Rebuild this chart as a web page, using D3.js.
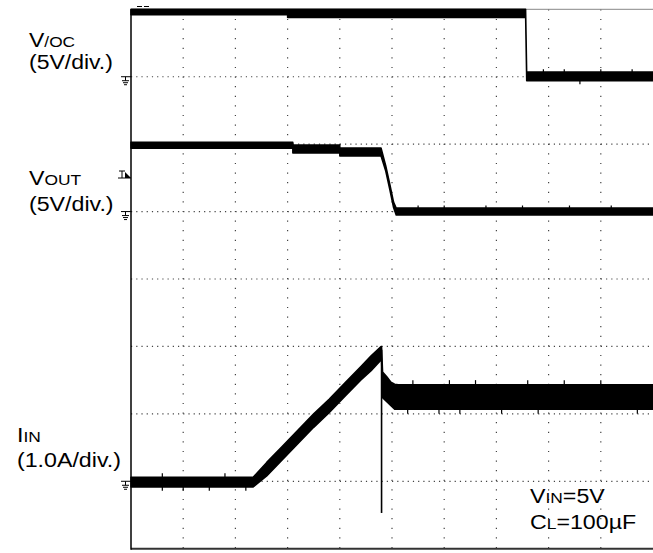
<!DOCTYPE html>
<html><head><meta charset="utf-8">
<script src="https://cdn.jsdelivr.net/npm/d3@7/dist/d3.min.js"></script>
<style>html,body{margin:0;padding:0;background:#fff;}svg{display:block;}</style>
</head><body>
<svg id="c" width="653" height="553"></svg>
<script>
// ---- data (time in ms, 1 ms/div; voltages in V; current in A) ----
const timeDomain = [0, 10];
const divDomain = [0, 8];
// V/OC channel: 5 V/div, ground at division 7
const vocTime = [0, 3.0, 3.0, 7.56, 7.58, 10];
const vocHi   = [5.0, 5.0, 5.0, 5.0, 0.35, 0.35];
const vocLo   = [4.6, 4.6, 4.4, 4.4, -0.3, -0.3];
// VOUT channel: 5 V/div, ground at division 5
const voutTime = [0, 3.1, 3.1, 4.0, 4.0, 4.79, 4.88, 4.96, 5.03, 5.08, 10];
const voutHi   = [5.15, 5.15, 4.93, 4.93, 4.71, 4.71, 3.4, 2.0, 0.7, 0.26, 0.26];
const voutLo   = [4.7, 4.7, 4.34, 4.34, 4.12, 4.12, 3.0, 1.6, 0.3, -0.26, -0.26];
// IIN channel: 1.0 A/div, ground at division 1
const iinTime = [0, 2.34, 2.6, 2.9, 3.2, 3.5, 3.8, 4.1, 4.4, 4.6, 4.79, 4.8, 4.82, 4.9, 4.98, 5.05, 5.12, 10];
const iinHi   = [0.06, 0.06, 0.28, 0.52, 0.76, 1.0, 1.22, 1.46, 1.7, 1.86, 2.0, 2.0, 1.62, 1.55, 1.47, 1.44, 1.43, 1.43];
const iinLo   = [-0.085, -0.085, 0.08, 0.32, 0.56, 0.8, 1.02, 1.26, 1.5, 1.64, 1.8, 1.8, 1.24, 1.18, 1.12, 1.07, 1.07, 1.07];
const iinSpikeTime = [4.8, 4.8];
const iinSpikeVal  = [1.95, -0.47];
// small noise ticks read from the capture: [time, from, to]
const iinNoise = [[0.6, 0.06, 0.12], [0.6, -0.085, -0.14], [1.0, -0.085, -0.14], [1.5, -0.085, -0.14], [1.8, 0.06, 0.12], [2.2, -0.085, -0.14],
                  [5.4, 1.43, 1.5], [6.1, 1.43, 1.5], [6.6, 1.43, 1.5], [7.6, 1.43, 1.5], [8.3, 1.43, 1.5], [9.0, 1.43, 1.5],
                  [5.3, 1.07, 1.0], [5.9, 1.07, 1.0], [6.3, 1.07, 1.0], [7.1, 1.07, 1.0], [7.8, 1.07, 1.0], [9.7, 1.07, 1.0]];
const voutNoise = [[5.5, 0.26, 0.45], [6.0, 0.26, 0.45], [6.8, 0.26, 0.45], [7.5, 0.26, 0.45], [8.4, 0.26, 0.45], [9.2, 0.26, 0.45]];
const vocNoise = [[7.9, 0.35, 0.55], [8.3, 0.35, 0.55], [9.0, 0.35, 0.55], [9.6, 0.35, 0.55], [8.6, -0.3, -0.55]];
// channel settings
const channels = [
  {name: "voc",  ground: 7, perDiv: 5},
  {name: "vout", ground: 5, perDiv: 5},
  {name: "iin",  ground: 1, perDiv: 1}
];

// ---- drawing ----
const svg = d3.select("#c");
const X0 = 131, X1 = 653, Y0 = 548.7, Y1 = 9.3;
const x = d3.scaleLinear().domain(timeDomain).range([X0, X1]);
const y = d3.scaleLinear().domain(divDomain).range([Y0, Y1]);

// grid (dotted)
const g = svg.append("g");
const vticks = d3.range(1, 10);
const hticks = d3.range(1, 8);
g.selectAll("line.v").data(vticks).join("line")
  .attr("x1", d => x(d)).attr("x2", d => x(d))
  .attr("y1", Y1).attr("y2", Y0)
  .attr("stroke", "#444").attr("stroke-width", 1.2)
  .attr("stroke-dasharray", "1.2 8.4");
g.selectAll("line.h").data(hticks).join("line")
  .attr("x1", X0).attr("x2", X1)
  .attr("y1", d => y(d)).attr("y2", d => y(d))
  .attr("stroke", "#444").attr("stroke-width", 1.2)
  .attr("stroke-dasharray", "1.2 4.02");

// frame
svg.append("line").attr("x1", X0).attr("x2", X1).attr("y1", Y1).attr("y2", Y1)
  .attr("stroke", "#888").attr("stroke-width", 1);
svg.append("line").attr("x1", X0).attr("x2", X1).attr("y1", Y0).attr("y2", Y0)
  .attr("stroke", "#333").attr("stroke-width", 2);
svg.append("line").attr("x1", X0).attr("x2", X0).attr("y1", Y1).attr("y2", Y0 + 1)
  .attr("stroke", "#000").attr("stroke-width", 1.5);

function chY(ch, v) { return y(ch.ground + v / ch.perDiv); }

function drawBand(ch, ts, hi, lo, noise) {
  const pts = ts.map((t, i) => ({t, hi: hi[i], lo: lo[i]}));
  const area = d3.area()
    .x(d => x(d.t))
    .y0(d => chY(ch, d.lo))
    .y1(d => chY(ch, d.hi));
  svg.append("path").datum(pts).attr("d", area)
    .attr("fill", "#000").attr("stroke", "#000").attr("stroke-width", 1.5)
    .attr("stroke-linejoin", "round");
  svg.append("g").selectAll("line").data(noise).join("line")
    .attr("x1", d => x(d[0])).attr("x2", d => x(d[0]))
    .attr("y1", d => chY(ch, d[1])).attr("y2", d => chY(ch, d[2]))
    .attr("stroke", "#000").attr("stroke-width", 1.2);
}

drawBand(channels[0], vocTime, vocHi, vocLo, vocNoise);
drawBand(channels[1], voutTime, voutHi, voutLo, voutNoise);
drawBand(channels[2], iinTime, iinHi, iinLo, iinNoise);

// current spike
const line = d3.line().x(d => x(d[0])).y(d => chY(channels[2], d[1]));
svg.append("path").datum(iinSpikeTime.map((t, i) => [t, iinSpikeVal[i]]))
  .attr("d", line).attr("stroke", "#000").attr("stroke-width", 1.6).attr("fill", "none");

// ground markers
function ground(yy) {
  const gg = svg.append("g").attr("stroke", "#000").attr("stroke-width", 1);
  gg.append("line").attr("x1", 121).attr("x2", 131).attr("y1", yy).attr("y2", yy);
  gg.append("line").attr("x1", 125.5).attr("x2", 125.5).attr("y1", yy).attr("y2", yy + 4);
  gg.append("line").attr("x1", 122).attr("x2", 129).attr("y1", yy + 4).attr("y2", yy + 4);
  gg.append("line").attr("x1", 123).attr("x2", 128).attr("y1", yy + 6).attr("y2", yy + 6);
  gg.append("line").attr("x1", 124).attr("x2", 127).attr("y1", yy + 8).attr("y2", yy + 8);
}
channels.forEach(ch => ground(chY(ch, 0)));

// trigger marker
const ty = 178;
svg.append("line").attr("x1", 118).attr("x2", 131).attr("y1", ty).attr("y2", ty).attr("stroke", "#000");
svg.append("path").attr("d", `M119,${ty-7}H125M122,${ty-7}V${ty}`).attr("stroke", "#000").attr("fill", "none");
svg.append("path").attr("d", `M125,${ty-6}L131,${ty}L125,${ty}Z`).attr("fill", "#000");
// small marks top-left
svg.append("path").attr("d", "M137,6.5H142M144,6.5H149").attr("stroke", "#000").attr("stroke-width", 1.2);

// labels
const font = "'Liberation Sans', Arial, Helvetica, sans-serif";
function label(xx, yy, parts, big, sx) {
  const t = svg.append("text")
    .attr("transform", `translate(${xx},${yy}) scale(${sx},1)`)
    .attr("font-family", font).attr("fill", "#000");
  parts.forEach(p => t.append("tspan").attr("font-size", p[1] ? big * 0.75 : big).text(p[0]));
}
label(29, 46.5, [["V"], ["/OC", 1]], 19.5, 1.18);
label(29, 68.5, [["(5V/div.)"]], 19.5, 1.18);
label(29, 185, [["V"], ["OUT", 1]], 20, 1.16);
label(29, 211, [["(5V/div.)"]], 20, 1.16);
label(17, 442, [["I"], ["IN", 1]], 20, 1.16);
label(17, 467, [["(1.0A/div.)"]], 20, 1.16);
label(530, 503, [["V"], ["IN", 1], ["=5V"]], 20, 1.16);
label(530, 529, [["C"], ["L", 1], ["=100µF"]], 20, 1.16);
</script>
</body></html>
